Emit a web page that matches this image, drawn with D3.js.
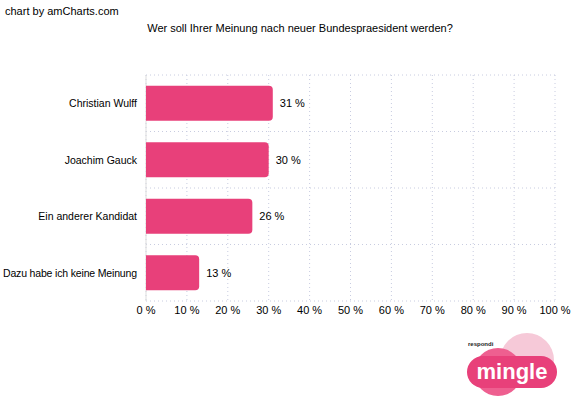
<!DOCTYPE html><html><head><meta charset="utf-8"><script src="https://cdn.jsdelivr.net/npm/d3@7"></script>
<style>body{margin:0;background:#fff}</style></head><body><script>
const categories=["Christian Wulff","Joachim Gauck","Ein anderer Kandidat","Dazu habe ich keine Meinung"];
const values=[31,30,26,13];
const ticks=[0,10,20,30,40,50,60,70,80,90,100];
const W=573,H=400,font="Arial, 'Liberation Sans', sans-serif";
const svg=d3.select("body").append("svg").attr("width",W).attr("height",H).style("font-family",font);
const x=d3.scaleLinear().domain([0,100]).range([146,555]);
const y=d3.scaleBand().domain(categories).range([75,301]).paddingInner(0.38).paddingOuter(0.19);
svg.append("text").attr("x",5).attr("y",15).attr("font-size",11).attr("fill","#000").text("chart by amCharts.com");
svg.append("text").attr("x",300).attr("y",32).attr("text-anchor","middle").attr("font-size",11).attr("fill","#000").text("Wer soll Ihrer Meinung nach neuer Bundespraesident werden?");
const g=svg.append("g");
ticks.forEach(t=>g.append("line").attr("x1",x(t)).attr("x2",x(t)).attr("y1",75).attr("y2",301).attr("stroke","#c8cce0").attr("stroke-dasharray","1,3"));
for(let i=0;i<=4;i++){const yy=75+i*(226/4);g.append("line").attr("x1",146).attr("x2",555).attr("y1",yy).attr("y2",yy).attr("stroke","#c8cce0").attr("stroke-dasharray","1,3");}
g.append("line").attr("x1",146).attr("x2",146).attr("y1",75).attr("y2",301).attr("stroke","#ddd");
g.selectAll("path.bar").data(values).join("path").attr("fill","#e8407a")
 .attr("d",(d,i)=>{const x0=x(0),x1=x(d),y0=y(categories[i]),h=y.bandwidth(),r=4;
  return `M${x0},${y0}H${x1-r}Q${x1},${y0} ${x1},${y0+r}V${y0+h-r}Q${x1},${y0+h} ${x1-r},${y0+h}H${x0}Z`;});
g.selectAll("text.v").data(values).join("text").attr("x",d=>x(d)+7).attr("y",(d,i)=>y(categories[i])+y.bandwidth()/2+4).attr("font-size",11).text(d=>d+" %");
g.selectAll("text.c").data(categories).join("text").attr("x",137).attr("y",c=>y(c)+y.bandwidth()/2+4).attr("text-anchor","end").attr("font-size",10.5).attr("textLength",c=>c.length>25?134:null).text(c=>c);
g.selectAll("text.t").data(ticks).join("text").attr("x",t=>x(t)).attr("y",314).attr("text-anchor","middle").attr("font-size",11).text(t=>t+" %");
const l=svg.append("g");
l.append("circle").attr("cx",527).attr("cy",360).attr("r",27).attr("fill","#f6c9d8");
l.append("circle").attr("cx",498).attr("cy",372).attr("r",24).attr("fill","#ee5f90");
l.append("rect").attr("x",467).attr("y",356).attr("width",90).attr("height",32).attr("rx",16).attr("fill","#e8407a");
l.append("text").attr("x",512).attr("y",379).attr("text-anchor","middle").attr("font-size",22).attr("font-weight","bold").attr("fill","#fff").text("mingle");
l.append("text").attr("x",468).attr("y",346).attr("font-size",6).attr("font-weight","bold").attr("fill","#222").text("respondi");
</script></body></html>
